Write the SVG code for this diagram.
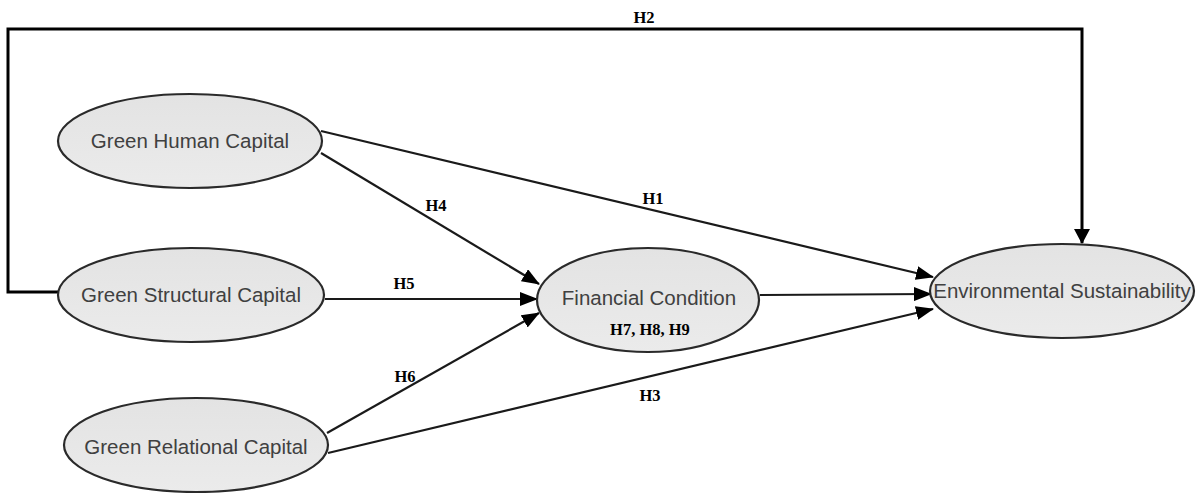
<svg xmlns="http://www.w3.org/2000/svg" width="1196" height="493" viewBox="0 0 1196 493">
  <defs>
    <linearGradient id="fillg" x1="0" y1="0" x2="0" y2="1">
      <stop offset="0" stop-color="#e3e3e3"/>
      <stop offset="1" stop-color="#ebebeb"/>
    </linearGradient>
    <marker id="arr" viewBox="0 0 18 14" refX="17" refY="7" markerWidth="18" markerHeight="14" markerUnits="userSpaceOnUse" orient="auto">
      <path d="M0,0 L18,7 L0,14 z" fill="#000"/>
    </marker>
    <marker id="arrv" viewBox="0 0 15 16" refX="14" refY="8" markerWidth="15" markerHeight="16" markerUnits="userSpaceOnUse" orient="auto">
      <path d="M0,0 L15,8 L0,16 z" fill="#000"/>
    </marker>
  </defs>
  <style>
    .node ellipse { fill: url(#fillg); stroke: #2a2a2a; stroke-width: 2.2; }
    .node text.name { font-family: "Liberation Sans", Arial, sans-serif; font-size: 20.5px; fill: #404040; text-anchor: middle; }
    .conn line, .conn path { stroke: #1a1a1a; stroke-width: 2.2; fill: none; }
    .conn .thick { stroke: #000; stroke-width: 3; }
    text.lbl { font-family: "Liberation Serif", "Times New Roman", serif; font-weight: bold; font-size: 16.5px; fill: #000; text-anchor: middle; }
  </style>
  <rect width="1196" height="493" fill="#fff"/>

  <g id="connectors" class="conn">
    <path class="thick" d="M58,292 H8 V29 H1082 V243" marker-end="url(#arrv)"/>
    <line x1="321" y1="131" x2="933" y2="277" marker-end="url(#arr)"/>
    <line x1="321" y1="153" x2="539" y2="284" marker-end="url(#arr)"/>
    <line x1="325" y1="299" x2="537" y2="299" marker-end="url(#arr)"/>
    <line x1="327" y1="433" x2="539" y2="313" marker-end="url(#arr)"/>
    <line x1="328" y1="453" x2="933" y2="309" marker-end="url(#arr)"/>
    <line x1="760" y1="295" x2="931" y2="294" marker-end="url(#arr)"/>
  </g>

  <g id="labels">
    <text class="lbl" x="644" y="23">H2</text>
    <text class="lbl" x="653" y="204">H1</text>
    <text class="lbl" x="436" y="211">H4</text>
    <text class="lbl" x="404" y="289">H5</text>
    <text class="lbl" x="405" y="382">H6</text>
    <text class="lbl" x="650" y="401">H3</text>
  </g>

  <g id="green-human-capital" class="node">
    <ellipse cx="190" cy="141" rx="132" ry="47"/>
    <text class="name" x="190" y="148">Green Human Capital</text>
  </g>
  <g id="green-structural-capital" class="node">
    <ellipse cx="191" cy="295" rx="133" ry="47"/>
    <text class="name" x="191" y="302">Green Structural Capital</text>
  </g>
  <g id="green-relational-capital" class="node">
    <ellipse cx="196" cy="445" rx="132" ry="47"/>
    <text class="name" x="196" y="454">Green Relational Capital</text>
  </g>
  <g id="financial-condition" class="node">
    <ellipse cx="648" cy="300" rx="111" ry="52"/>
    <text class="name" x="649" y="305">Financial Condition</text>
    <text class="lbl" x="650" y="335">H7, H8, H9</text>
  </g>
  <g id="environmental-sustainability" class="node">
    <ellipse cx="1062" cy="291" rx="132" ry="47"/>
    <text class="name" x="1062" y="298">Environmental Sustainability</text>
  </g>
</svg>
